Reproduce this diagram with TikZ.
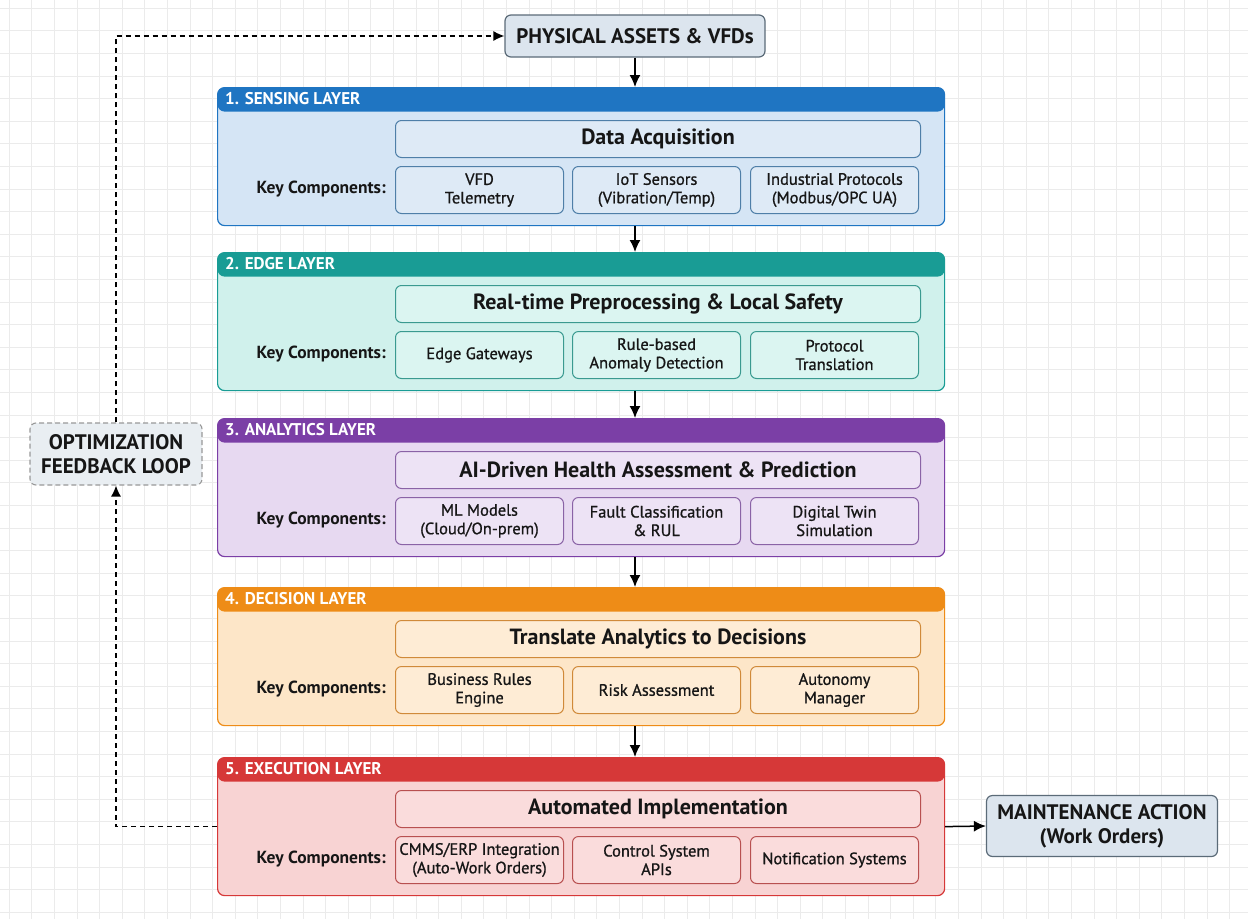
\documentclass[tikz,border=0pt]{standalone}
\usepackage{fontspec}
\setmainfont{PT Sans}
\newfontfamily\compfont[FakeBold=0.9]{PT Sans}
\usetikzlibrary{arrows.meta}
\definecolor{gridc}{HTML}{EBEBEB}
\definecolor{hdrA}{HTML}{1F75C2}\definecolor{bodyA}{HTML}{D5E5F5}\definecolor{inA}{HTML}{4F7FA8}\definecolor{infA}{HTML}{DEEAF6}
\definecolor{hdrB}{HTML}{199C95}\definecolor{bodyB}{HTML}{D0F1EC}\definecolor{inB}{HTML}{3A9A90}\definecolor{infB}{HTML}{DBF5F1}
\definecolor{hdrC}{HTML}{7B3FA6}\definecolor{bodyC}{HTML}{E7D9F1}\definecolor{inC}{HTML}{8A63A6}\definecolor{infC}{HTML}{EDE3F5}
\definecolor{hdrD}{HTML}{EE8C17}\definecolor{bodyD}{HTML}{FDE6C8}\definecolor{inD}{HTML}{D08A3A}\definecolor{infD}{HTML}{FEECD5}
\definecolor{hdrE}{HTML}{D63838}\definecolor{bodyE}{HTML}{F8D3D3}\definecolor{inE}{HTML}{B85050}\definecolor{infE}{HTML}{FADCDC}
\definecolor{endfill}{HTML}{DCE5EE}\definecolor{endline}{HTML}{5B6B78}
\definecolor{optfill}{HTML}{E9EEF2}\definecolor{txt}{HTML}{161616}
\tikzset{
  layer/.style={draw=hdr#1, fill=body#1, rounded corners=7pt, line width=1.2pt,
    path picture={\fill[hdr#1] (path picture bounding box.north west) rectangle ([yshift=-24pt]path picture bounding box.north east);}},
  hdrtext/.style={text=white, font=\fontsize{17}{19}\selectfont\bfseries, inner sep=0pt},
  mainbox/.style={draw=in#1, fill=inf#1, rounded corners=6pt, line width=1pt, minimum width=525pt, minimum height=37pt,
    text=txt, font=\fontsize{22}{24}\selectfont\bfseries, inner sep=0pt},
  comp/.style={draw=in#1, fill=inf#1, rounded corners=6pt, line width=1pt, minimum width=168pt, minimum height=47pt,
    text=txt, align=center, font=\compfont\fontsize{16.5}{18.5}\selectfont, inner sep=1pt},
  keytext/.style={text=txt, font=\fontsize{17.5}{20}\selectfont\bfseries, inner sep=0pt},
  endbox/.style={draw=endline, fill=endfill, rounded corners=6pt, line width=1.2pt, text=txt, align=center,
    font=\fontsize{21}{23}\selectfont\bfseries, inner sep=0pt},
  arr/.style={line width=1.5pt, -{Latex[length=12pt,width=11pt]}},
  darr/.style={line width=1.3pt, dash pattern=on 5pt off 4pt, -{Latex[length=11pt,width=10pt]}}
}
\newcommand\mylayer[8]{%
  \node[layer=#3, minimum width=727pt, minimum height=138pt, anchor=north west, inner sep=0pt] (#1) at (217,#2) {};
  \node[hdrtext, anchor=west] (#1h) at (225,{#2+12}) {#4};
  \node[mainbox=#3, anchor=north west] (#1m) at (395,{#2+33}) {#5};
  \node[comp=#3, anchor=north west] (#1a) at (395,{#2+79}) {#6};
  \node[comp=#3, anchor=north west] (#1b) at (572,{#2+79}) {#7};
  \node[comp=#3, anchor=north west] (#1c) at (750,{#2+79}) {#8};
  \node[keytext, anchor=east] (#1k) at (386,{#2+102}) {Key Components:};
}
\begin{document}
\begin{tikzpicture}[x=1pt,y=-1pt]
\useasboundingbox (0,0) rectangle (1248,919);
\fill[white] (0,0) rectangle (1248,919);
\foreach \i in {0,...,55} {\draw[gridc, line width=0.6pt] ({9+22.6*\i},0) -- ({9+22.6*\i},919);}
\foreach \i in {0,...,40} {\draw[gridc, line width=0.6pt] (0,{8+22.6*\i}) -- (1248,{8+22.6*\i});}

\node[endbox, minimum width=260pt, minimum height=42pt] (P) at (635,36) {PHYSICAL ASSETS \& VFDs};

\mylayer{L1}{87}{A}{1. SENSING LAYER}{Data Acquisition}{VFD\\Telemetry}{IoT Sensors\\(Vibration/Temp)}{Industrial Protocols\\(Modbus/OPC UA)}
\mylayer{L2}{252}{B}{2. EDGE LAYER}{Real-time Preprocessing \& Local Safety}{Edge Gateways}{Rule-based\\Anomaly Detection}{Protocol\\Translation}
\mylayer{L3}{418}{C}{3. ANALYTICS LAYER}{AI-Driven Health Assessment \& Prediction}{ML Models\\(Cloud/On-prem)}{Fault Classification\\\& RUL}{Digital Twin\\Simulation}
\mylayer{L4}{587}{D}{4. DECISION LAYER}{Translate Analytics to Decisions}{Business Rules\\Engine}{Risk Assessment}{Autonomy\\Manager}
\mylayer{L5}{757}{E}{5. EXECUTION LAYER}{Automated Implementation}{CMMS/ERP Integration\\(Auto-Work Orders)}{Control System\\APIs}{Notification Systems}

\node[endbox, minimum width=231pt, minimum height=61pt, font=\fontsize{21}{24}\selectfont\bfseries] (M) at (1102,826) {MAINTENANCE ACTION\\(Work Orders)};
\node[endbox, fill=optfill, draw=gray!80, dash pattern=on 5pt off 3pt, minimum width=172pt, minimum height=62pt, line width=1.1pt, font=\fontsize{21}{24}\selectfont\bfseries] (O) at (116,454) {OPTIMIZATION\\FEEDBACK LOOP};

\draw[arr] (P.south) -- (L1.north -| P.south);
\draw[arr] (L1.south -| P.south) -- (L2.north -| P.south);
\draw[arr] (L2.south -| P.south) -- (L3.north -| P.south);
\draw[arr] (L3.south -| P.south) -- (L4.north -| P.south);
\draw[arr] (L4.south -| P.south) -- (L5.north -| P.south);
\draw[arr] (L5.east) -- (M.west);
\draw[darr] (L5.west) -| (O.south);
\draw[darr] (O.north) |- (P.west);
\end{tikzpicture}
\end{document}
